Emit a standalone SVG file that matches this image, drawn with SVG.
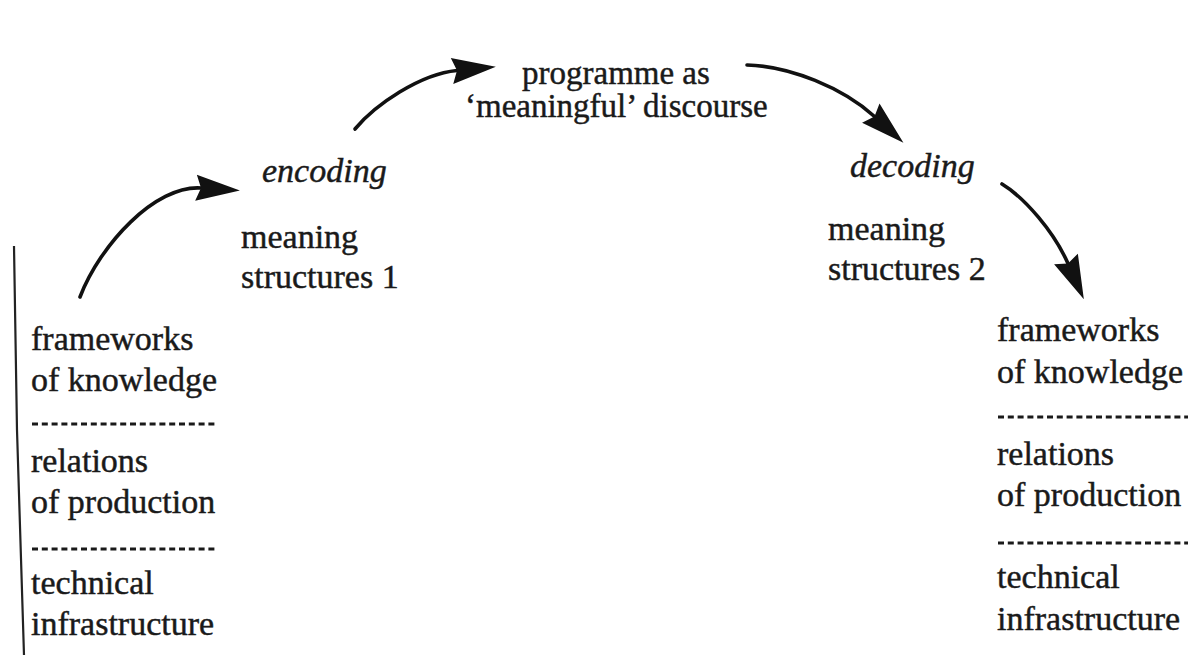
<svg xmlns="http://www.w3.org/2000/svg" width="1201" height="658" viewBox="0 0 1201 658">
<style>
  text { font-family: "Liberation Serif", "Times New Roman", serif; font-size: 34px; fill: #1a1a1a; stroke: #1a1a1a; stroke-width: 0.45; }
  .it { font-style: italic; }
  .top { font-size: 33px; }
  .arc { fill: none; stroke: #111; stroke-width: 3.6; stroke-linecap: round; }
  .sep { stroke: #1a1a1a; stroke-width: 2.8; stroke-dasharray: 6 3.8; }
  .bar { fill: none; stroke: #222; stroke-width: 2.2; }
</style>
<defs>
  <marker id="head" markerUnits="userSpaceOnUse" markerWidth="48" markerHeight="28" refX="5" refY="0" orient="auto" overflow="visible">
    <path d="M0,-13 L44,0 L0,13 L5,0 Z" fill="#111"/>
  </marker>
</defs>
<rect width="1201" height="658" fill="#ffffff"/>

<g id="programme">
  <text class="top" x="522" y="84">programme as</text>
  <text class="top" x="465" y="117">‘meaningful’ discourse</text>
</g>

<g id="encoding">
  <text class="it" x="262" y="182">encoding</text>
</g>

<g id="meaning-structures-1">
  <text x="241" y="248">meaning</text>
  <text x="241" y="288">structures 1</text>
</g>

<g id="decoding">
  <text class="it" x="850" y="177">decoding</text>
</g>

<g id="meaning-structures-2">
  <text x="828" y="240">meaning</text>
  <text x="828" y="280">structures 2</text>
</g>

<g id="left-stack">
  <path class="bar" d="M14,246 L17,430 L24,655"/>
  <text x="31" y="350">frameworks</text>
  <text x="31" y="391">of knowledge</text>
  <line class="sep" x1="32" y1="424" x2="218" y2="424"/>
  <text x="31" y="472">relations</text>
  <text x="31" y="513">of production</text>
  <line class="sep" x1="32" y1="549" x2="218" y2="549"/>
  <text x="31" y="594">technical</text>
  <text x="31" y="635">infrastructure</text>
</g>

<g id="right-stack">
  <text x="997" y="341">frameworks</text>
  <text x="997" y="383">of knowledge</text>
  <line class="sep" x1="998" y1="417" x2="1188" y2="417"/>
  <text x="997" y="465">relations</text>
  <text x="997" y="506">of production</text>
  <line class="sep" x1="998" y1="543" x2="1188" y2="543"/>
  <text x="997" y="588">technical</text>
  <text x="997" y="630">infrastructure</text>
</g>

<g id="connectors">
  <path class="arc" marker-end="url(#head)" d="M80,297 C100,245 155,185 201,188"/>
  <path class="arc" marker-end="url(#head)" d="M355,129 C375,105 420,74 457,70.5"/>
  <path class="arc" marker-end="url(#head)" d="M747,65 C790,66 843,88 874.5,116.5"/>
  <path class="arc" marker-end="url(#head)" d="M1002,184 C1025,198 1054,232 1068,263.5"/>
</g>
</svg>
